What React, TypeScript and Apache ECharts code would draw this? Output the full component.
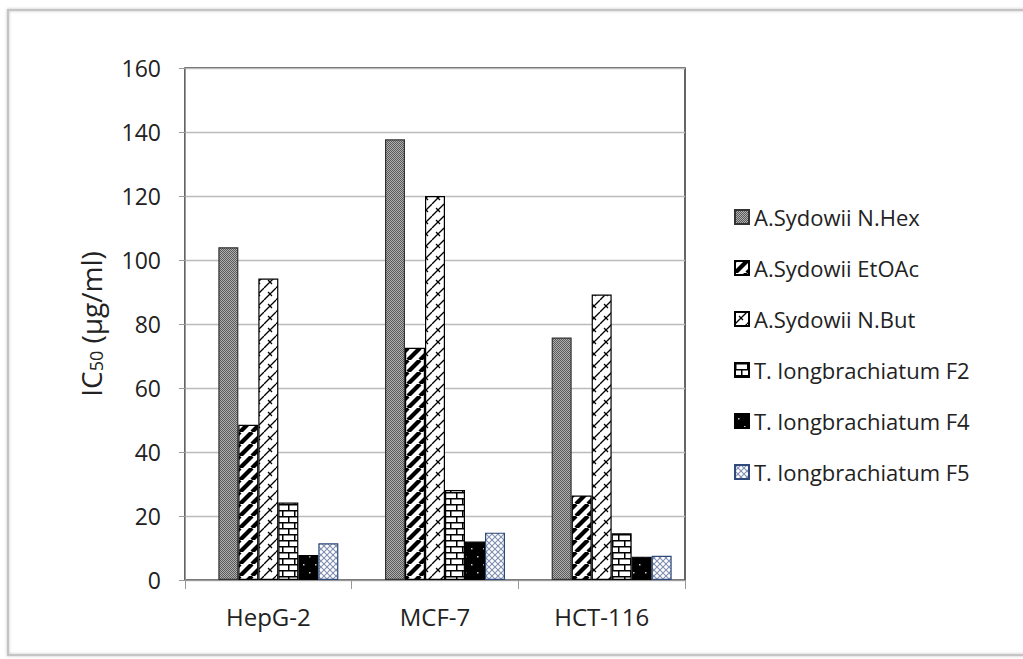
import React, { useEffect, useRef } from "react";
import * as echarts from "echarts";

const categories = ["HepG-2", "MCF-7", "HCT-116"];
const seriesNames = [
  "A.Sydowii N.Hex",
  "A.Sydowii EtOAc",
  "A.Sydowii N.But",
  "T. longbrachiatum F2",
  "T. longbrachiatum F4",
  "T. longbrachiatum F5",
];
const nHex = [104, 137.7, 75.8];
const etOAc = [48.5, 72.6, 26.4];
const nBut = [94.2, 120, 89.2];
const f2 = [24.2, 28.1, 14.6];
const f4 = [7.8, 12, 7.3];
const f5 = [11.5, 14.8, 7.6];
const yTicks = [0, 20, 40, 60, 80, 100, 120, 140, 160];

function makeCanvas(w: number, h: number, draw: (c: CanvasRenderingContext2D) => void) {
  const cv = document.createElement("canvas");
  cv.width = w;
  cv.height = h;
  const c = cv.getContext("2d")!;
  draw(c);
  return cv;
}

function patterns() {
  const hex = makeCanvas(4, 4, (c) => {
    c.fillStyle = "#b0b0b0";
    c.fillRect(0, 0, 4, 4);
    c.fillStyle = "#5a5a5a";
    for (let y = 0; y < 4; y++)
      for (let x = 0; x < 4; x++) if ((x + y) % 2 === 0) c.fillRect(x, y, 1, 1);
  });
  const stripe = makeCanvas(12, 12, (c) => {
    c.fillStyle = "#fff";
    c.fillRect(0, 0, 12, 12);
    c.strokeStyle = "#000";
    c.lineWidth = 4.2;
    for (const o of [-12, 0, 12]) {
      c.beginPath();
      c.moveTo(o, 12);
      c.lineTo(o + 12, 0);
      c.stroke();
    }
  });
  const zig = makeCanvas(12, 12, (c) => {
    c.fillStyle = "#fff";
    c.fillRect(0, 0, 12, 12);
    c.strokeStyle = "#000";
    c.lineWidth = 1.3;
    for (const o of [-12, 0, 12]) {
      c.beginPath();
      c.moveTo(o, 12);
      c.lineTo(o + 12, 0);
      c.stroke();
    }
    c.beginPath();
    c.moveTo(4, 4);
    c.lineTo(8, 8);
    c.stroke();
  });
  const brick = makeCanvas(12, 12, (c) => {
    c.fillStyle = "#fff";
    c.fillRect(0, 0, 12, 12);
    c.fillStyle = "#000";
    c.fillRect(0, 0, 12, 1.5);
    c.fillRect(0, 6, 12, 1.5);
    c.fillRect(0, 0, 1.5, 6);
    c.fillRect(6, 6, 1.5, 6);
  });
  const dots = makeCanvas(12, 16, (c) => {
    c.fillStyle = "#000";
    c.fillRect(0, 0, 12, 16);
    c.fillStyle = "#ccc";
    c.fillRect(3, 4, 1.5, 1.5);
    c.fillRect(9, 12, 1.5, 1.5);
  });
  const lattice = makeCanvas(6, 6, (c) => {
    c.fillStyle = "#ffffff";
    c.fillRect(0, 0, 6, 6);
    c.strokeStyle = "#7f8fb0";
    c.lineWidth = 1.1;
    for (const o of [-6, 0, 6]) {
      c.beginPath();
      c.moveTo(o, 6);
      c.lineTo(o + 6, 0);
      c.stroke();
      c.beginPath();
      c.moveTo(o, 0);
      c.lineTo(o + 6, 6);
      c.stroke();
    }
  });
  return [hex, stripe, zig, brick, dots, lattice];
}

const FONT = "Open Sans";

export default function App() {
  const ref = useRef<HTMLDivElement>(null);
  useEffect(() => {
    document.body.style.margin = "0";
    const chart = echarts.init(ref.current!, null, { renderer: "svg" });
    const pats = patterns();
    const datas = [nHex, etOAc, nBut, f2, f4, f5];
    const borders = ["#333", "#000", "#000", "#000", "#000", "#2f4a7a"];
    const series: any[] = [
      {
        name: "_spacer",
        type: "bar",
        data: [null, null, null],
        barGap: "0%",
        barCategoryGap: "16%",
        itemStyle: { color: "transparent" },
        silent: true,
      },
    ];
    seriesNames.forEach((name, i) =>
      series.push({
        name,
        type: "bar",
        data: datas[i],
        barGap: "0%",
        barCategoryGap: "16%",
        itemStyle: {
          color: { image: pats[i], repeat: "repeat" },
          borderColor: borders[i],
          borderWidth: 1.2,
        },
      })
    );
    chart.setOption({
      animation: false,
      backgroundColor: "#fff",
      textStyle: { fontFamily: FONT },
      graphic: [
        {
          type: "rect",
          shape: { x: 8, y: 10, width: 1100, height: 645 },
          style: {
            fill: "transparent",
            stroke: "#c4c4c4",
            lineWidth: 2,
            shadowBlur: 3,
            shadowColor: "rgba(0,0,0,0.25)",
          },
          z: -1,
        },
      ],
      grid: {
        left: 185,
        right: 338,
        top: 68,
        bottom: 79,
        show: true,
        borderColor: "#333",
        borderWidth: 1.5,
      },
      legend: {
        orient: "vertical",
        left: 729,
        top: 201,
        itemWidth: 14,
        itemHeight: 14,
        itemGap: 29,
        icon: "rect",
        textStyle: { fontFamily: FONT, fontSize: 22, color: "#222", lineHeight: 22 },
        data: seriesNames,
      },
      xAxis: {
        type: "category",
        data: categories,
        axisLine: { lineStyle: { color: "#999", width: 1 } },
        axisTick: { show: true, length: 9, lineStyle: { color: "#999" } },
        axisLabel: { fontSize: 24, color: "#222", margin: 24, fontFamily: FONT },
      },
      yAxis: {
        type: "value",
        min: 0,
        max: 160,
        interval: 20,
        name: "{a|IC}{s|50}{a| (µg/ml)}",
        nameLocation: "middle",
        nameGap: 80,
        nameTextStyle: {
          rich: {
            a: { fontSize: 28, color: "#222", fontFamily: FONT, lineHeight: 32, verticalAlign: "bottom" },
            s: { fontSize: 18, color: "#222", fontFamily: FONT, lineHeight: 20, verticalAlign: "bottom" },
          },
        },
        axisLine: { show: true, lineStyle: { color: "#999" } },
        axisTick: { show: true, length: 6, lineStyle: { color: "#999" } },
        axisLabel: {
          fontSize: 23,
          color: "#222",
          margin: 24,
          fontFamily: FONT,
          formatter: (v: number) => (yTicks.includes(v) ? String(v) : ""),
        },
        splitLine: { lineStyle: { color: "#bbb", width: 1.3 } },
      },
      series,
    });
    return () => chart.dispose();
  }, []);
  return <div ref={ref} style={{ width: 1023, height: 659 }} />;
}
